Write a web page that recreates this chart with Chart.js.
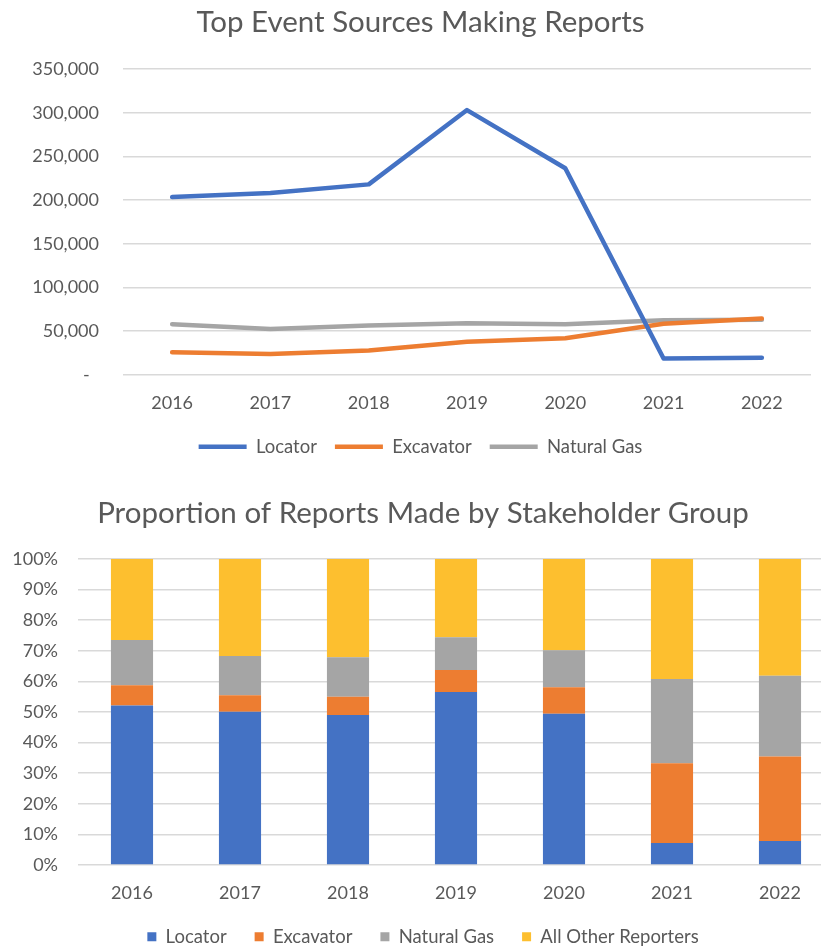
<!DOCTYPE html>
<html>
<head>
<meta charset="utf-8">
<script src="https://cdn.jsdelivr.net/npm/chart.js@4.4.1/dist/chart.umd.min.js"></script>
<style>
  html, body { margin: 0; padding: 0; background: #ffffff; overflow: hidden; width: 821px; height: 949px; }
  #top { position: absolute; left: 0; top: 0; }
  #bottom { position: absolute; left: 0; top: 470px; }
</style>
</head>
<body>
<div id="top"><canvas id="lineChart" width="821" height="470"></canvas></div>
<div id="bottom"><canvas id="barChart" width="840" height="486"></canvas></div>
<script>
// ---- Data ----
const years = ['2016', '2017', '2018', '2019', '2020', '2021', '2022'];

// Top chart: number of reports
const locatorReports    = [203500, 208000, 218000, 303000, 236500, 18700, 19500];
const excavatorReports  = [26000, 24000, 28000, 38000, 42000, 58500, 64500];
const naturalGasReports = [58000, 52500, 56500, 59000, 58000, 62500, 63000];

// Bottom chart: share of reports (%)
const locatorShare    = [52.1, 50.1, 49.0, 56.5, 49.4, 7.2, 7.8];
const excavatorShare  = [6.6, 5.4, 6.0, 7.2, 8.7, 26.0, 27.6];
const naturalGasShare = [14.8, 12.8, 12.9, 10.7, 12.1, 27.6, 26.4];
const otherShare      = [26.5, 31.7, 32.1, 25.6, 29.8, 39.2, 38.2];

const lineTitle = 'Top Event Sources Making Reports';
const barTitle = 'Proportion of Reports Made by Stakeholder Group';

// ---- Styles ----
const BLUE = '#4472C4', ORANGE = '#ED7D31', GRAY = '#A5A5A5', GOLD = '#FDBF2F';
const TEXT = '#595959', GRID = '#d9d9d9';
const FONT = 'Lato';
const TITLE_SIZE = 29.5;
const LABEL_SIZE = 18.5;
const TICK_SIZE = 18;
const X_PAD = 17;
const TOP_LEGEND_GAP = 18;
const BOTTOM_LEGEND_GAP = 28;

Chart.defaults.font.family = FONT;
Chart.defaults.color = TEXT;
Chart.defaults.animation = false;

function lineDs(label, data, color) {
  return {
    label, data,
    borderColor: color, backgroundColor: color,
    borderWidth: 4.5, pointRadius: 0, pointHoverRadius: 0,
    tension: 0, borderJoinStyle: 'round', borderCapStyle: 'round', fill: false
  };
}

new Chart(document.getElementById('lineChart'), {
  type: 'line',
  data: {
    labels: years,
    datasets: [
      lineDs('Locator', locatorReports, BLUE),
      lineDs('Excavator', excavatorReports, ORANGE),
      lineDs('Natural Gas', naturalGasReports, GRAY)
    ]
  },
  options: {
    responsive: false,
    layout: { padding: { left: 30, right: 10, top: 0, bottom: 4 } },
    plugins: {
      title: {
        display: true, text: lineTitle, color: TEXT,
        font: { family: FONT, size: TITLE_SIZE, weight: 'normal' },
        padding: { top: 4.3, bottom: 29.3 }
      },
      legend: {
        position: 'bottom',
        labels: {
          usePointStyle: true, pointStyle: 'line', pointStyleWidth: 48,
          boxHeight: 18, padding: TOP_LEGEND_GAP, color: TEXT,
          font: { family: FONT, size: LABEL_SIZE }
        }
      },
      tooltip: { enabled: false }
    },
    scales: {
      x: {
        offset: true,
        afterFit: (s) => { s.height = X_PAD + TICK_SIZE * 1.2 + (24 - TOP_LEGEND_GAP); },
        grid: { display: false, drawTicks: false },
        border: { display: false },
        ticks: { padding: X_PAD, color: TEXT, font: { family: FONT, size: TICK_SIZE } }
      },
      y: {
        min: 0, max: 350000,
        afterFit: (s) => { s.width = 93; },
        grid: { color: GRID, lineWidth: 1.5, drawTicks: false },
        border: { display: false },
        ticks: {
          stepSize: 50000, padding: 24, color: TEXT,
          font: { family: FONT, size: TICK_SIZE },
          callback: (v) => v === 0 ? '-  ' : v.toLocaleString('en-US')
        }
      }
    }
  }
});

function barDs(label, data, color) {
  return {
    label, data, backgroundColor: color, borderWidth: 0,
    categoryPercentage: 1, barPercentage: 0.39
  };
}

new Chart(document.getElementById('barChart'), {
  type: 'bar',
  data: {
    labels: years,
    datasets: [
      barDs('Locator', locatorShare, BLUE),
      barDs('Excavator', excavatorShare, ORANGE),
      barDs('Natural Gas', naturalGasShare, GRAY),
      barDs('All Other Reporters', otherShare, GOLD)
    ]
  },
  options: {
    responsive: false,
    layout: { padding: { left: 12, right: 6, top: 0, bottom: 0 } },
    plugins: {
      title: {
        display: true, text: barTitle, color: TEXT,
        font: { family: FONT, size: TITLE_SIZE, weight: 'normal' },
        padding: { top: 25.3, bottom: 28.3 }
      },
      legend: {
        position: 'bottom',
        labels: {
          boxWidth: 9, boxHeight: 9, padding: BOTTOM_LEGEND_GAP, color: TEXT,
          font: { family: FONT, size: LABEL_SIZE }
        }
      },
      tooltip: { enabled: false }
    },
    scales: {
      x: {
        stacked: true,
        afterFit: (s) => { s.height = X_PAD + TICK_SIZE * 1.2 + (24 - BOTTOM_LEGEND_GAP); },
        grid: { display: false, drawTicks: false },
        border: { display: false },
        ticks: { padding: X_PAD, color: TEXT, font: { family: FONT, size: TICK_SIZE } }
      },
      y: {
        stacked: true, min: 0, max: 100,
        afterFit: (s) => { s.width = 66; },
        grid: { color: GRID, lineWidth: 1.5, drawTicks: false },
        border: { display: false },
        ticks: {
          stepSize: 10, padding: 20, color: TEXT,
          font: { family: FONT, size: TICK_SIZE },
          callback: (v) => v + '%'
        }
      }
    }
  }
});
</script>
</body>
</html>
